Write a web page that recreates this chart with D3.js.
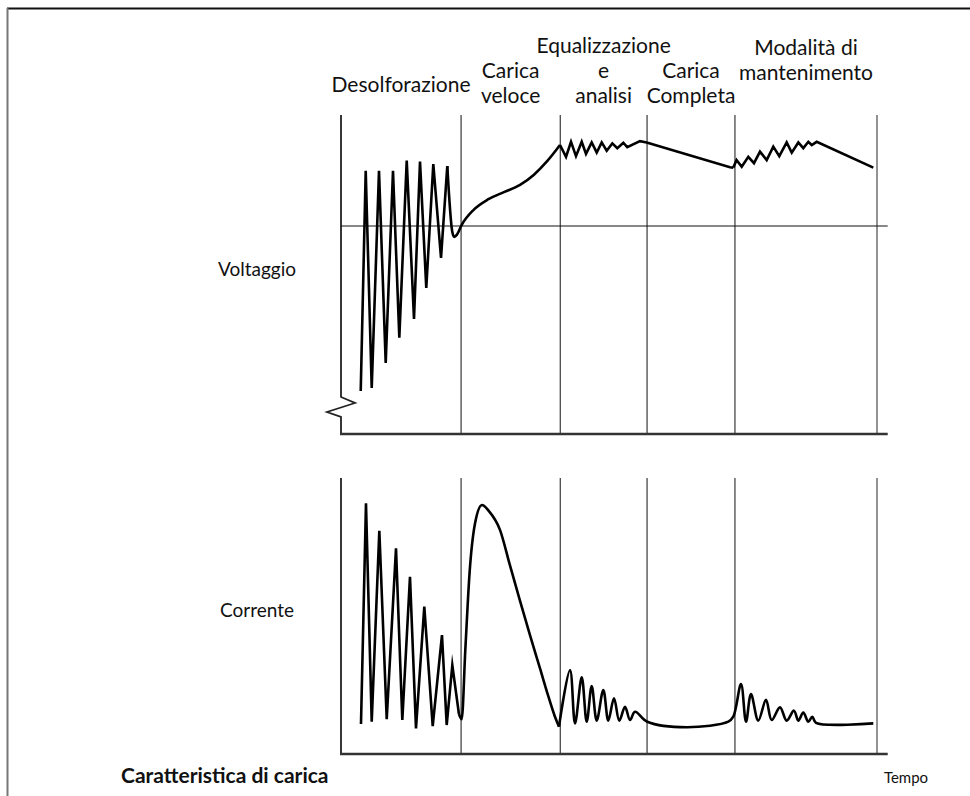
<!DOCTYPE html>
<html>
<head>
<meta charset="utf-8">
<script src="https://cdn.jsdelivr.net/npm/d3@7/dist/d3.min.js"></script>
<style>
  html, body { margin: 0; padding: 0; background: #fff; }
  svg { display: block; }
  text { font-family: Lato, "Open Sans", sans-serif; fill: #111; }
</style>
</head>
<body>
<svg id="chart" width="970" height="796"></svg>
<script>
// ---------- DATA (time 0..100, values 0..100 arbitrary units) ----------
const phaseNames = [
  ["Desolforazione"],
  ["Carica", "veloce"],
  ["Equalizzazione", "e", "analisi"],
  ["Carica", "Completa"],
  ["Modalità di", "mantenimento"]
];
const phaseEnds = [22.4, 40.9, 57.1, 73.5, 100];
const voltageRef = 65.2;

// Voltage: desulfation pulses (sharp)
const voltDesulf = [
  [3.68, 13.5], [4.61, 82.5], [5.73, 14.4], [7.09, 82.5], [8.34, 22.3], [9.70, 82.5],
  [10.88, 30.2], [12.26, 85.7], [13.62, 36.1], [14.74, 85.4], [15.91, 45.8], [17.22, 84.6],
  [18.66, 55.2], [19.83, 84.0]
];
// Voltage: dip and fast-charge rise (smooth)
const voltFast = [
  [19.83, 84.0], [20.75, 63.5], [21.14, 61.8], [21.6, 62.4], [22.5, 65.5], [24.7, 70.2],
  [27.5, 73.6], [30.5, 75.9], [33.4, 78.1], [36.0, 81.3], [38.5, 85.6], [40.86, 90.6]
];
// Voltage: equalization ripple (sharp)
const voltEqual = [
  [40.86, 90.6], [41.98, 86.9], [42.91, 91.6], [43.84, 87.1], [44.91, 91.6], [45.71, 87.8],
  [46.77, 91.4], [47.71, 88.2], [48.64, 91.4], [49.57, 88.8], [50.62, 91.1], [51.55, 89.6],
  [52.67, 91.3], [53.41, 89.9], [55.78, 91.8], [57.03, 91.4], [72.57, 83.6], [73.19, 83.5]
];
// Voltage: maintenance ripple (sharp)
const voltMaint = [
  [73.19, 83.5], [73.8, 85.9], [74.76, 83.8], [75.99, 86.9], [77.05, 84.9], [78.17, 88.5],
  [79.42, 85.9], [80.65, 90.1], [81.77, 87.1], [83.15, 91.4], [84.09, 88.2], [85.32, 91.4],
  [86.25, 89.6], [87.19, 91.6], [87.82, 90.6], [88.75, 91.6], [99.31, 83.5]
];

// Current: desulfation pulses (sharp)
const currDesulf = [
  [3.73, 10.9], [4.66, 90.8], [5.73, 11.7], [7.15, 80.9], [8.53, 12.6], [10.26, 74.5],
  [11.44, 12.3], [12.87, 64.2], [13.99, 9.3], [15.54, 53.4], [17.11, 10.1], [18.84, 43.1],
  [19.72, 10.5], [20.77, 32.2], [22.0, 14.5]
];
// Current: fast-charge bump (smooth)
const currFast = [
  [22.0, 14.5], [22.52, 12.6], [23.2, 38.0], [24.0, 66.0], [25.0, 83.5], [26.3, 90.2],
  [27.6, 88.0], [29.66, 81.2], [31.5, 68.5], [33.4, 55.5], [35.3, 42.8], [37.13, 31.0],
  [38.6, 21.4], [39.9, 13.6], [40.67, 9.9]
];
// Current: equalization / full / maintenance (smooth)
const currTail = [
  [40.67, 9.9], [42.72, 30.4], [43.66, 11.1], [44.91, 27.8], [45.84, 11.7], [46.77, 24.6],
  [47.71, 12.1], [48.94, 23.2], [49.87, 12.1], [50.93, 20.2], [51.92, 12.1], [52.99, 17.1],
  [53.92, 12.3], [54.85, 15.3], [57.15, 11.7], [64.5, 9.7], [72.26, 11.7], [73.19, 13.5],
  [74.63, 25.3], [75.56, 11.7], [76.49, 21.7], [77.85, 12.1], [79.29, 19.6], [80.35, 12.3],
  [81.9, 16.9], [83.15, 12.1], [84.51, 15.7], [85.32, 12.1], [86.25, 15.0], [87.19, 11.7],
  [87.93, 13.5], [88.62, 11.3], [99.31, 11.1]
];

const panelLabels = ["Voltaggio", "Corrente"];
const titleText = "Caratteristica di carica";
const timeLabel = "Tempo";

// ---------- LAYOUT ----------
const svg = d3.select("#chart");
const x = d3.scaleLinear().domain([0, 100]).range([341, 877]);
const xEnd = 102;
const yV = d3.scaleLinear().domain([0, 100]).range([434, 115]);
const yC = d3.scaleLinear().domain([0, 100]).range([754, 478]);

// frame
svg.append("line").attr("x1", 7).attr("x2", 970).attr("y1", 8.5).attr("y2", 8.5)
  .attr("stroke", "#111").attr("stroke-width", 2);
svg.append("line").attr("x1", 7.5).attr("x2", 7.5).attr("y1", 8).attr("y2", 796)
  .attr("stroke", "#777").attr("stroke-width", 2);

function panel(y, withBreak) {
  const g = svg.append("g");
  g.selectAll("line.div").data(phaseEnds).join("line")
    .attr("x1", d => x(d)).attr("x2", d => x(d))
    .attr("y1", y(100)).attr("y2", y(0))
    .attr("stroke", (d, i) => i === phaseEnds.length - 1 ? "#777" : "#111")
    .attr("stroke-width", (d, i) => i === phaseEnds.length - 1 ? 1.6 : 1);
  if (withBreak) {
    const x0 = x(0), b = y(11.6);
    const pts = [[x0, y(100)], [x0, b], [x0 + 14, b + 6], [x0 - 14, b + 15], [x0, b + 20], [x0, y(0)]];
    g.append("path").attr("d", d3.line()(pts)).attr("fill", "none")
      .attr("stroke", "#222").attr("stroke-width", 1.8);
  } else {
    g.append("line").attr("x1", x(0)).attr("x2", x(0)).attr("y1", y(100)).attr("y2", y(0))
      .attr("stroke", "#222").attr("stroke-width", 1.8);
  }
  g.append("line").attr("x1", x(0) - 1).attr("x2", x(xEnd)).attr("y1", y(0)).attr("y2", y(0))
    .attr("stroke", "#333").attr("stroke-width", 2.4);
  return g;
}

panel(yV, true);
panel(yC, false);

svg.append("line").attr("x1", x(0)).attr("x2", x(xEnd))
  .attr("y1", yV(voltageRef)).attr("y2", yV(voltageRef))
  .attr("stroke", "#111").attr("stroke-width", 1);

function curve(data, y, c) {
  svg.append("path")
    .attr("d", d3.line().x(d => x(d[0])).y(d => y(d[1])).curve(c)(data))
    .attr("fill", "none").attr("stroke", "#000").attr("stroke-width", 2.6)
    .attr("stroke-linejoin", "miter").attr("stroke-miterlimit", 10);
}
curve(voltDesulf, yV, d3.curveLinear);
curve(voltFast, yV, d3.curveMonotoneX);
curve(voltEqual, yV, d3.curveLinear);
curve(voltMaint, yV, d3.curveLinear);
curve(currDesulf, yC, d3.curveLinear);
curve(currFast, yC, d3.curveMonotoneX);
curve(currTail, yC, d3.curveCatmullRom.alpha(0.5));

// phase labels
const lastBaseline = [92, 103, 103, 103, 80];
const lineH = 25;
const starts = [0].concat(phaseEnds.slice(0, -1));
phaseNames.forEach((lines, i) => {
  const cx = x((starts[i] + phaseEnds[i]) / 2);
  const n = lines.length;
  lines.forEach((t, j) => {
    svg.append("text").attr("x", cx).attr("y", lastBaseline[i] - (n - 1 - j) * lineH)
      .attr("text-anchor", "middle").attr("font-size", 21).text(t);
  });
});

// panel labels
svg.append("text").attr("x", 257).attr("y", yV(50) + 1).attr("text-anchor", "middle")
  .attr("font-size", 19).text(panelLabels[0]);
svg.append("text").attr("x", 257).attr("y", yC(50) + 1).attr("text-anchor", "middle")
  .attr("font-size", 19).text(panelLabels[1]);

// title + time label
svg.append("text").attr("x", 121).attr("y", 783).attr("font-size", 21)
  .attr("font-weight", "bold").text(titleText);
svg.append("text").attr("x", 906).attr("y", 783).attr("text-anchor", "middle")
  .attr("font-size", 15).text(timeLabel);
</script>
</body>
</html>
